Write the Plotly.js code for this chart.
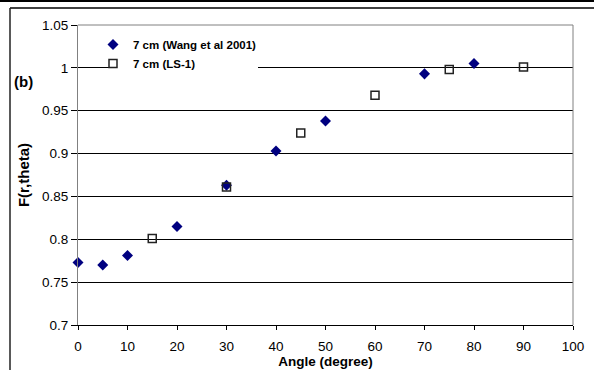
<!DOCTYPE html>
<html><head><meta charset="utf-8">
<script src="https://cdn.plot.ly/plotly-3.0.1.min.js"></script>
<style>html,body{margin:0;padding:0;background:#fff;}#chart{width:594px;height:370px;}</style>
</head><body><div id="chart"></div>
<script>
const wangAngles = [0, 5, 10, 20, 30, 40, 50, 70, 80];
const wangValues = [0.773, 0.770, 0.781, 0.815, 0.863, 0.903, 0.938, 0.993, 1.005];
const lsAngles = [15, 30, 45, 60, 75, 90];
const lsValues = [0.801, 0.861, 0.924, 0.968, 0.998, 1.001];
const xTicks = [0,10,20,30,40,50,60,70,80,90,100];
const yTicks = [0.7,0.75,0.8,0.85,0.9,0.95,1,1.05];
const yTickText = ['0.7','0.75','0.8','0.85','0.9','0.95','1','1.05'];

const L=78, R=573, T=25, B=325;
const px = v => (v-L)/(R-L);
const py = v => (B-v)/(B-T);

const fam = '"Liberation Sans", Arial, sans-serif';
const traces = [
  {x:wangAngles, y:wangValues, mode:'markers', type:'scatter', name:'<b>7 cm (Wang et al 2001)</b>', cliponaxis:false,
   marker:{symbol:'diamond', size:8.5, color:'#000080', line:{width:0}}},
  {x:lsAngles, y:lsValues, mode:'markers', type:'scatter', name:'<b>7 cm (LS-1)</b>', cliponaxis:false,
   marker:{symbol:'square-open', size:8, color:'#222', line:{width:1.5}}}
];
const shapes = [
  {type:'rect', xref:'paper', yref:'paper', x0:px(117), x1:px(258), y0:py(76), y1:py(32), fillcolor:'#fff', line:{width:0}, layer:'above'},
  {type:'line', xref:'paper', yref:'paper', x0:0, x1:1, y0:1, y1:1, line:{color:'#808080', width:1}, layer:'above'},
  {type:'line', xref:'paper', yref:'paper', x0:1, x1:1, y0:0, y1:1, line:{color:'#808080', width:1}, layer:'above'},
  {type:'line', xref:'paper', yref:'paper', x0:px(0), x1:px(594), y0:py(1), y1:py(1), line:{color:'#000', width:2}},
  {type:'line', xref:'paper', yref:'paper', x0:px(10), x1:px(594), y0:py(8), y1:py(8), line:{color:'#000', width:1.5}},
  {type:'line', xref:'paper', yref:'paper', x0:px(10), x1:px(10), y0:py(8), y1:py(370), line:{color:'#222', width:1.5}}
];
const layout = {
  width:594, height:370, margin:{l:L, r:594-R, t:T, b:370-B},
  paper_bgcolor:'#fff', plot_bgcolor:'#fff', showlegend:true,
  font:{family:fam, color:'#000'},
  xaxis:{range:[0,100], tickvals:xTicks, ticktext:xTicks.map(String), showgrid:false, zeroline:false,
    showline:true, linecolor:'#000', linewidth:1, ticks:'outside', ticklen:4, tickcolor:'#000',
    ticklabelstandoff:5,
    tickfont:{size:13.5, family:fam, color:'#000'},
    title:{text:'<b>Angle (degree)</b>', font:{size:13.5, family:fam, color:'#000'}, standoff:1}},
  yaxis:{range:[0.7,1.05], tickvals:yTicks, ticktext:yTickText, showgrid:true, gridcolor:'#000', gridwidth:1,
    zeroline:false, showline:true, linecolor:'#808080', linewidth:1, ticks:'outside', ticklen:6, tickcolor:'#000',
    tickfont:{size:13.5, family:fam, color:'#000'},
    title:{text:'<b>F(r,theta)</b>', font:{size:15, family:fam, color:'#000'}, standoff:8}},
  legend:{x:px(93), y:py(30), xanchor:'left', yanchor:'top', bgcolor:'rgba(0,0,0,0)', borderwidth:0,
    font:{size:11.5, family:fam, color:'#000'}, tracegroupgap:0, itemwidth:30},
  shapes:shapes,
  annotations:[{xref:'paper', yref:'paper', x:px(12), y:py(81), xanchor:'left', yanchor:'middle', showarrow:false,
    text:'<b>(b)</b>', font:{size:15, family:fam, color:'#000'}}]
};
Plotly.newPlot('chart', traces, layout, {displayModeBar:false, staticPlot:true});
</script></body></html>
